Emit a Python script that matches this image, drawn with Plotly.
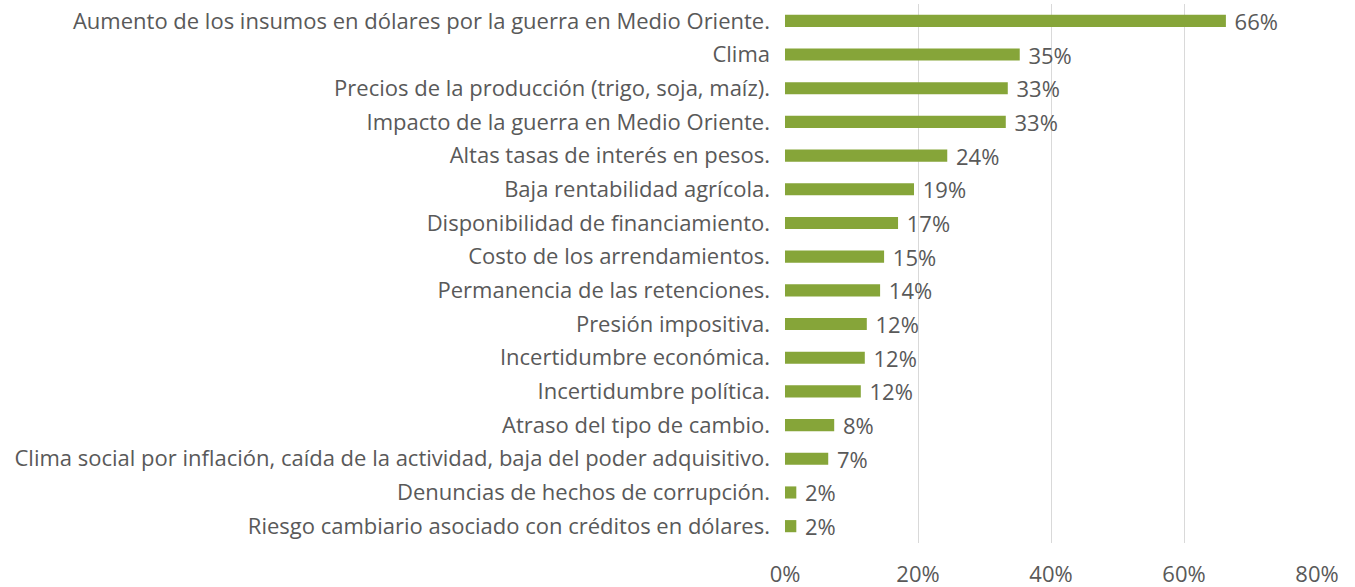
import plotly.graph_objects as go

categories = [
    "Aumento de los insumos en dólares por la guerra en Medio Oriente.",
    "Clima",
    "Precios de la producción (trigo, soja, maíz).",
    "Impacto de la guerra en Medio Oriente.",
    "Altas tasas de interés en pesos.",
    "Baja rentabilidad agrícola.",
    "Disponibilidad de financiamiento.",
    "Costo de los arrendamientos.",
    "Permanencia de las retenciones.",
    "Presión impositiva.",
    "Incertidumbre económica.",
    "Incertidumbre política.",
    "Atraso del tipo de cambio.",
    "Clima social por inflación, caída de la actividad, baja del poder adquisitivo.",
    "Denuncias de hechos de corrupción.",
    "Riesgo cambiario asociado con créditos en dólares.",
]
values = [0.663, 0.353, 0.335, 0.332, 0.244, 0.194, 0.170, 0.149, 0.143, 0.123, 0.120, 0.114, 0.074, 0.065, 0.017, 0.017]
labels = ["66%", "35%", "33%", "33%", "24%", "19%", "17%", "15%", "14%", "12%", "12%", "12%", "8%", "7%", "2%", "2%"]
x_ticks = [0, 0.2, 0.4, 0.6, 0.8]
x_tick_labels = ["0%", "20%", "40%", "60%", "80%"]

FONT = "Open Sans"
GRAY = "#595959"
FS = 22

fig = go.Figure(go.Bar(
    x=values,
    y=categories,
    orientation="h",
    marker=dict(color="#86A539", line=dict(width=0)),
    width=0.36,
    text=[" " + t for t in labels],
    textposition="outside",
    constraintext="none",
    textfont=dict(family=FONT, size=FS, color=GRAY),
    cliponaxis=False,
    hoverinfo="skip",
))

fig.update_layout(
    width=1355,
    height=587,
    margin=dict(l=785, r=38, t=4, b=44),
    plot_bgcolor="white",
    paper_bgcolor="white",
    showlegend=False,
    hovermode=False,
    font=dict(family=FONT, size=FS, color=GRAY),
    xaxis=dict(
        range=[0, 0.8],
        tickvals=x_ticks,
        ticktext=x_tick_labels,
        showgrid=True,
        gridcolor="#D9D9D9",
        gridwidth=1,
        zeroline=False,
        showline=False,
        ticks="",
        automargin=False,
        fixedrange=True,
        ticklabelstandoff=16,
        tickfont=dict(family=FONT, size=FS, color=GRAY),
    ),
    yaxis=dict(
        showgrid=False,
        zeroline=False,
        showline=False,
        ticks="",
        automargin=False,
        fixedrange=True,
        ticklabelstandoff=14,
        tickfont=dict(family=FONT, size=FS, color=GRAY),
        range=[15.5, -0.5],
        autorange=False,
    ),
)

fig.write_html(
    "out.html",
    config={"displayModeBar": False, "staticPlot": True},
    post_script="document.body.style.margin='0';document.body.style.overflow='hidden';",
)
